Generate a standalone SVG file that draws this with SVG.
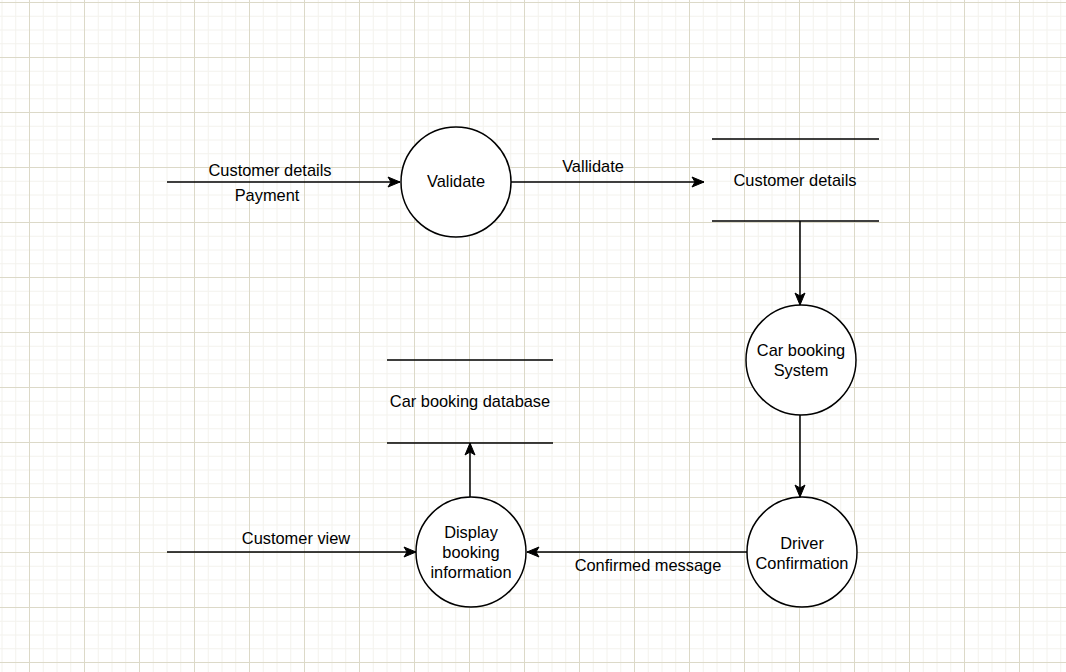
<svg xmlns="http://www.w3.org/2000/svg" width="1066" height="672" viewBox="0 0 1066 672">
<style>
.t{font-family:"Liberation Sans",Arial,sans-serif;font-size:16.4px;fill:#000;text-anchor:middle}
.c{fill:#fff;stroke:#000;stroke-width:1.5}
.l{stroke:#000;stroke-width:1.5;fill:none}
.e{stroke:#000;stroke-width:1.5;fill:none;marker-end:url(#ah)}
</style>
<defs>
<pattern id="grid" patternUnits="userSpaceOnUse" x="29" y="2" width="55" height="55">
<path d="M14.25 0V55M28 0V55M41.75 0V55M0 14.25H55M0 28H55M0 41.75H55" stroke="#f3f2ed" stroke-width="1"/>
<path d="M0.5 0V55M0 0.5H55" stroke="#dcd9c8" stroke-width="1"/>
</pattern>
<marker id="ah" markerUnits="userSpaceOnUse" markerWidth="16" markerHeight="14" viewBox="-1 -7 15 14" refX="12" refY="0" orient="auto">
<path d="M0,-5 L12,0 L0,5 L3,0 Z" fill="#000" stroke="#000" stroke-width="1"/>
</marker>
</defs>
<rect width="1066" height="672" fill="#fff"/>
<rect width="1066" height="672" fill="url(#grid)"/>
<g id="connectors">
<path class="e" d="M167 182H400"/>
<text class="t" x="270" y="176">Customer details</text>
<text class="t" x="267" y="201">Payment</text>
<path class="e" d="M511 182H704"/>
<text class="t" x="593" y="172">Vallidate</text>
<path class="e" d="M800 221V305"/>
<path class="e" d="M800 415V497"/>
<path class="e" d="M747 552H527"/>
<text class="t" x="648" y="571">Confirmed message</text>
<path class="e" d="M167 552H416"/>
<text class="t" x="296" y="544">Customer view</text>
<path class="e" d="M470 497V443"/>
</g>
<g id="validate">
<circle class="c" cx="456" cy="182" r="55"/>
<text class="t" x="456" y="187">Validate</text>
</g>
<g id="customer-details-store">
<path class="l" d="M712 139H879M712 221H879"/>
<text class="t" x="795" y="186">Customer details</text>
</g>
<g id="car-booking-system">
<circle class="c" cx="801" cy="360" r="55"/>
<text class="t" x="801" y="356">Car booking</text>
<text class="t" x="801" y="376">System</text>
</g>
<g id="driver-confirmation">
<circle class="c" cx="802" cy="552" r="55"/>
<text class="t" x="802" y="549">Driver</text>
<text class="t" x="802" y="569">Confirmation</text>
</g>
<g id="display-booking">
<circle class="c" cx="471" cy="552" r="55"/>
<text class="t" x="471" y="538">Display</text>
<text class="t" x="471" y="558">booking</text>
<text class="t" x="471" y="578">information</text>
</g>
<g id="car-booking-database">
<path class="l" d="M387 360H553M387 443H553"/>
<text class="t" x="470" y="407">Car booking database</text>
</g>
</svg>
